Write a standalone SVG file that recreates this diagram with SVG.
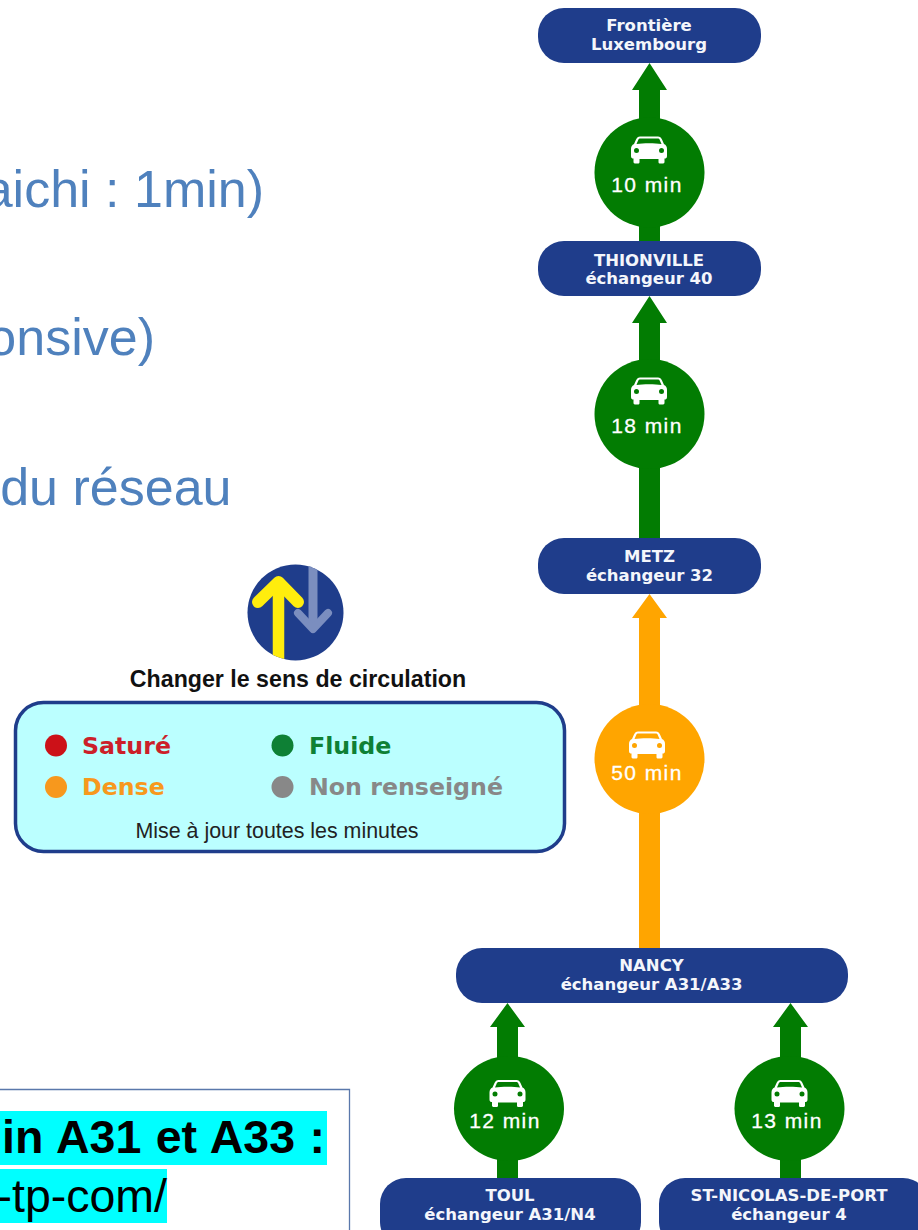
<svg xmlns="http://www.w3.org/2000/svg" width="918" height="1230" viewBox="0 0 918 1230">
<style>
.n{fill:#1f3d8b}
.nt{font-family:"DejaVu Sans",sans-serif;font-weight:bold;font-size:16.500px;fill:#f4f6fb;text-anchor:middle}
.t{font-family:"Liberation Sans",sans-serif;font-size:21px;letter-spacing:1.400px;fill:#fff;stroke:#fff;stroke-width:.3px;text-anchor:middle}
.g{fill:#027c02}.o{fill:#ffa500}
.leg{font-family:"DejaVu Sans",sans-serif;font-weight:bold;font-size:23.700px}
.blue{font-family:"Liberation Sans",sans-serif;font-size:52px;fill:#4f81bd;text-anchor:end}
.note{font-family:"Liberation Sans",sans-serif;font-size:46.500px;fill:#000;text-anchor:end}
</style>
<defs>
<path id="car" fill="#fff" fill-rule="evenodd" d="M-9-13.500H9C11-13.500 12-12.500 13-10.500L15-6C17-5 18-3.500 18-1V6C18 8 17 8.500 15.500 8.500V12C15.500 13.500 14.500 13.500 13 13.500H11.500C10 13.500 9.500 13 9.500 12V9H-9.500V12C-9.500 13-10 13.500-11.500 13.500H-13C-14.500 13.500-15.500 13.500-15.500 12V8.500C-17 8.500-18 8-18 6V-1C-18-3.500-17-5-15-6L-13-10.500C-12-12.500-11-13.500-9-13.500ZM-8.500-11.500C-10-11.500-10.500-11-11-9.500L-12.500-6C-6-7 6-7 12.500-6L11-9.500C10.500-11 10-11.500 8.500-11.500ZM-12.500-2A2.500 2.500 0 1 0-12.500 3 2.500 2.500 0 1 0-12.500-2ZM12.500-2A2.500 2.500 0 1 0 12.500 3 2.500 2.500 0 1 0 12.500-2Z"/>
<clipPath id="signClip"><circle cx="295.500" cy="612.500" r="48"/></clipPath>
</defs>

<g id="background-text">
<text class="blue" x="264" y="207">aichi : 1min)</text>
<text class="blue" x="155" y="355">onsive)</text>
<text class="blue" x="231.500" y="505">du réseau</text>
</g>

<g id="connectors">
<path class="g" d="M649.500 63L667 90H660V241H639V90H632Z"/>
<path class="g" d="M649.500 296L667 323H660V538H639V323H632Z"/>
<path class="o" d="M649.500 594L667 618H660V948H639V618H632Z"/>
<path class="g" d="M507.500 1003L525 1027H518V1178H497V1027H490Z"/>
<path class="g" d="M790.500 1003L808 1027H801V1178H780V1027H773Z"/>
</g>

<g id="time-10"><circle class="g" cx="649.500" cy="172.500" r="55"/><use href="#car" x="649" y="150"/><text class="t" x="647" y="192">10 min</text></g>
<g id="time-18"><circle class="g" cx="649.500" cy="414" r="55"/><use href="#car" x="649" y="391"/><text class="t" x="647" y="433">18 min</text></g>
<g id="time-50"><circle class="o" cx="649.500" cy="759" r="55"/><use href="#car" x="647" y="745"/><text class="t" x="647" y="780">50 min</text></g>
<g id="time-12"><ellipse class="g" cx="509" cy="1108.500" rx="55" ry="52.500"/><use href="#car" x="507.500" y="1093.500"/><text class="t" x="505" y="1128">12 min</text></g>
<g id="time-13"><ellipse class="g" cx="789.500" cy="1108.500" rx="55" ry="52.500"/><use href="#car" x="789.500" y="1093.500"/><text class="t" x="787" y="1128">13 min</text></g>

<g id="node-frontiere"><rect class="n" x="538" y="8" width="223" height="55" rx="26"/><text class="nt" x="649" y="31">Frontière</text><text class="nt" x="649" y="49.500">Luxembourg</text></g>
<g id="node-thionville"><rect class="n" x="538" y="241" width="223" height="55" rx="26"/><text class="nt" x="649" y="265.500">THIONVILLE</text><text class="nt" x="649" y="284">échangeur 40</text></g>
<g id="node-metz"><rect class="n" x="538" y="538" width="223" height="56" rx="26"/><text class="nt" x="649.500" y="562">METZ</text><text class="nt" x="649.500" y="580.500">échangeur 32</text></g>
<g id="node-nancy"><rect class="n" x="456" y="948" width="392" height="55" rx="26"/><text class="nt" x="651.500" y="971">NANCY</text><text class="nt" x="651.500" y="989.500">échangeur A31/A33</text></g>
<g id="node-toul"><rect class="n" x="380" y="1178" width="261" height="70" rx="26"/><text class="nt" x="510" y="1201">TOUL</text><text class="nt" x="510" y="1219.500">échangeur A31/N4</text></g>
<g id="node-stnicolas"><rect class="n" x="659" y="1178" width="270" height="70" rx="26"/><text class="nt" x="789" y="1201">ST-NICOLAS-DE-PORT</text><text class="nt" x="789" y="1219.500">échangeur 4</text></g>

<g id="sign">
<circle class="n" cx="295.500" cy="612.500" r="48"/>
<g clip-path="url(#signClip)">
<path d="M278.500 580V665" stroke="#ffed0d" stroke-width="11.500" fill="none"/>
<path d="M258 602L278.500 582L298 602" stroke="#ffed0d" stroke-width="12" stroke-linecap="round" stroke-linejoin="round" fill="none"/>
<path d="M313 560V628" stroke="#7b8ebf" stroke-width="9" fill="none"/>
<path d="M298 613L313 629L328 613" stroke="#7b8ebf" stroke-width="8" stroke-linecap="round" stroke-linejoin="round" fill="none"/>
</g>
<text x="298" y="687" font-family="'Liberation Sans',sans-serif" font-weight="bold" font-size="23.200px" fill="#111" text-anchor="middle">Changer le sens de circulation</text>
</g>

<g id="legend">
<rect x="15.500" y="702.500" width="549" height="149" rx="28" fill="#bbffff" stroke="#1f3d8b" stroke-width="3.500"/>
<circle cx="56" cy="745.500" r="11" fill="#cc1118"/><text class="leg" x="82" y="753.500" fill="#cc1f2a">Saturé</text>
<circle cx="282.500" cy="745.500" r="11" fill="#0e8035"/><text class="leg" x="309" y="753.500" fill="#0e8035">Fluide</text>
<circle cx="56" cy="787" r="11" fill="#f7981d"/><text class="leg" x="82" y="795" fill="#f7981d">Dense</text>
<circle cx="282.500" cy="787" r="11" fill="#888"/><text class="leg" x="309" y="795" fill="#888">Non renseigné</text>
<text x="277" y="838" font-family="'Liberation Sans',sans-serif" font-size="21.400px" fill="#222" text-anchor="middle">Mise à jour toutes les minutes</text>
</g>

<g id="note">
<path d="M0 1089.500H349.500V1230" fill="none" stroke="#5a78ab" stroke-width="1.300"/>
<rect x="0" y="1111" width="327" height="54" fill="#00ffff"/>
<rect x="0" y="1169" width="167" height="54" fill="#00ffff"/>
<text class="note" x="325" y="1153" font-weight="bold" word-spacing="1.500">in A31 et A33 :</text>
<text class="note" x="167" y="1212">-tp-com/</text>
</g>
</svg>
